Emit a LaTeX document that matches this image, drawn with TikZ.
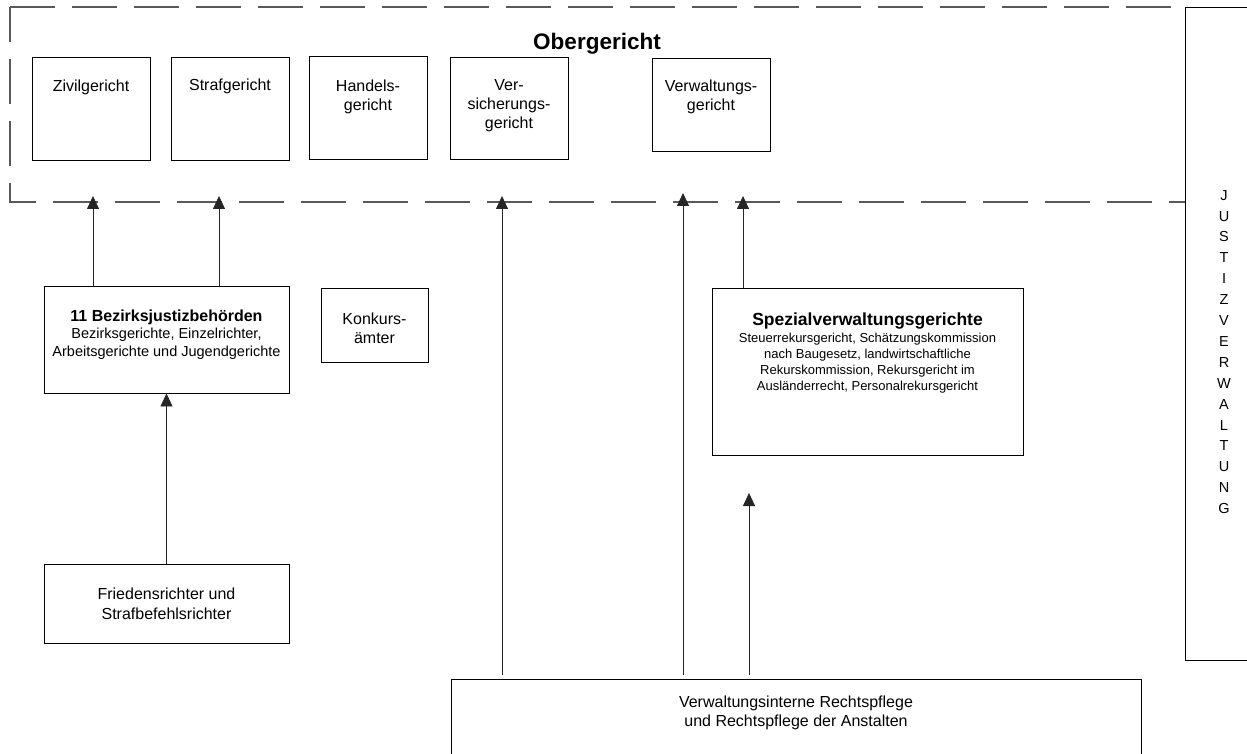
\documentclass[tikz,border=0pt]{standalone}
\usepackage{fontspec}
\setmainfont{Liberation Sans}
\usetikzlibrary{arrows.meta, positioning}

\begin{document}
\begin{tikzpicture}[x=1pt, y=-1pt,
  box/.style={draw, line width=0.9pt, inner sep=0pt},
  txt/.style={inner sep=0pt, align=center, font=\fontsize{16}{19}\selectfont},
  frame/.style={draw=black!65, line width=1.1pt, dash pattern=on 45pt off 17pt},
  arr/.style={draw=black!85, line width=0.8pt, -{Triangle[width=12pt, length=13pt]}}]
\useasboundingbox (0,0) rectangle (1247,754);
\clip (0,0) rectangle (1247,754);
\draw[frame] (10,7) -- (1185,7);
\draw[frame, dash phase=10pt] (10,7) -- (10,202) -- (1185,202);
\node[box, minimum width=115pt, minimum height=653pt] (justiz) at (1242.5,333.5) {};
\node[txt, anchor=north, font=\fontsize{14.5}{20.9}\selectfont] (justiz-t) at (1224,190) {J\\U\\S\\T\\I\\Z\\V\\E\\R\\W\\A\\L\\T\\U\\N\\G};
\node[txt, anchor=north, font=\fontsize{22.5}{27}\selectfont\bfseries] (ober-t) at (597,33) {Obergericht};
\node[box, minimum width=118pt, minimum height=103pt] (zivil) at (91,108.5) {};
\node[box, minimum width=118pt, minimum height=103pt] (straf) at (230,108.5) {};
\node[box, minimum width=118pt, minimum height=103pt] (handel) at (368,107.5) {};
\node[box, minimum width=118pt, minimum height=102pt] (versich) at (509,108) {};
\node[box, minimum width=118pt, minimum height=93pt] (verwalt) at (711,104.5) {};
\node[txt, below=23pt of zivil.north] (zivil-t) {Zivilgericht};
\node[txt, below=22pt of straf.north] (straf-t) {Strafgericht};
\node[txt, below=24pt of handel.north] (handel-t) {Handels-\\gericht};
\node[txt, below=23pt of versich.north] (versich-t) {Ver-\\sicherungs-\\gericht};
\node[txt, below=22pt of verwalt.north] (verwalt-t) {Verwaltungs-\\gericht};
\node[box, minimum width=245pt, minimum height=107pt] (bezirk) at (166.5,339.5) {};
\node[txt, font=\fontsize{14.5}{17.5}\selectfont, below=24pt of bezirk.north] (bezirk-t) {{\fontsize{16}{19}\selectfont\bfseries 11 Bezirksjustizbehörden}\\Bezirksgerichte, Einzelrichter,\\Arbeitsgerichte und Jugendgerichte};
\node[box, minimum width=107pt, minimum height=74pt] (konkurs) at (374.5,325) {};
\node[txt, below=25pt of konkurs.north] (konkurs-t) {Konkurs-\\ämter};
\node[box, minimum width=311pt, minimum height=167pt] (spezial) at (867.5,371.5) {};
\node[txt, font=\fontsize{13}{16}\selectfont, below=25pt of spezial.north] (spezial-t) {{\fontsize{17.5}{20}\selectfont\bfseries Spezialverwaltungsgerichte}\\[1pt]Steuerrekursgericht, Schätzungskommission\\nach Baugesetz, landwirtschaftliche\\Rekurskommission, Rekursgericht im\\Ausländerrecht, Personalrekursgericht};
\node[box, minimum width=245pt, minimum height=79pt] (frieden) at (166.5,603.5) {};
\node[txt, font=\fontsize{16}{20}\selectfont, below=24pt of frieden.north] (frieden-t) {Friedensrichter und\\Strafbefehlsrichter};
\node[box, minimum width=690pt, minimum height=111pt] (intern) at (796,734.5) {};
\node[txt, below=17pt of intern.north] (intern-t) {Verwaltungsinterne Rechtspflege\\und Rechtspflege der Anstalten};
\coordinate (in1) at (93,196);
\coordinate (in2) at (219,196);
\coordinate (in3) at (502,196);
\coordinate (in4) at (683,193);
\coordinate (in5) at (743,196);
\coordinate (in6) at (749,493);
\draw[arr] (bezirk.north -| in1) -- (in1);
\draw[arr] (bezirk.north -| in2) -- (in2);
\draw[arr] (frieden) -- (bezirk);
\draw[arr, shorten <=4pt] (intern.north -| in3) -- (in3);
\draw[arr, shorten <=4pt] (intern.north -| in4) -- (in4);
\draw[arr] (spezial.north -| in5) -- (in5);
\draw[arr, shorten <=4pt] (intern.north -| in6) -- (in6);
\end{tikzpicture}
\end{document}
